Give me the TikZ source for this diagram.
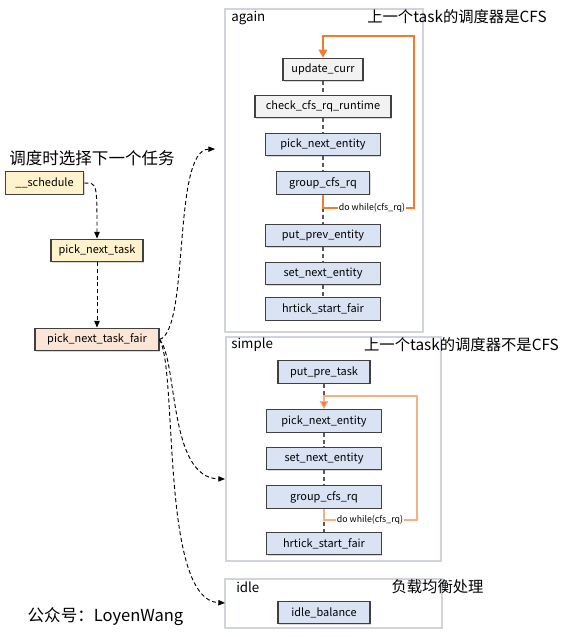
\documentclass[tikz,border=0pt]{standalone}
\usepackage{fontspec}
\setmainfont{Noto Sans CJK SC}
\usetikzlibrary{arrows.meta,shadows}

\definecolor{fgray}{HTML}{F2F2F2}
\definecolor{fblue}{HTML}{DAE3F3}
\definecolor{fyellow}{HTML}{FFF2CC}
\definecolor{fpeach}{HTML}{FBE5D6}
\definecolor{edge}{HTML}{404040}
\definecolor{boxline}{HTML}{D0D5DC}
\definecolor{loopdark}{HTML}{ED7D31}
\definecolor{looplight}{HTML}{F4B183}

\tikzset{
  func/.style={draw=edge, line width=0.8pt, minimum height=17pt, inner sep=0pt,
    font=\fontsize{8.2}{9}\selectfont,
    drop shadow={shadow xshift=0.8pt, shadow yshift=-0.8pt, opacity=0.3}},
  grp/.style={draw=boxline, line width=0.9pt, fill=white,
    drop shadow={shadow xshift=0.6pt, shadow yshift=-0.6pt, opacity=0.15}},
  caption/.style={inner sep=0pt, font=\fontsize{11.5}{12}\selectfont},
  bigcaption/.style={inner sep=0pt, font=\fontsize{12.4}{13}\selectfont},
  tag/.style={inner sep=0pt, anchor=west, font=\fontsize{10}{11}\selectfont},
  call/.style={densely dashed, line width=0.7pt, -{Triangle[length=5pt,width=4pt]}},
  seq/.style={densely dashed, line width=0.9pt, draw=black!65},
  loop/.style={line width=0.8pt, -{Triangle[length=6pt,width=6.5pt,fill=loopdark]}},
  looptext/.style={fill=white, inner sep=0.5pt, font=\fontsize{6.6}{7}\selectfont}
}

\begin{document}
\begin{tikzpicture}[x=0.75pt,y=-0.75pt]
      \useasboundingbox (0,0) rectangle (567,637);

      % left call chain
      \node (pickcap) at (92,158) [bigcaption] {调度时选择下一个任务};

      \node (sched) at (44.5,183) [func, fill=fyellow, minimum width=59pt]
      {\_\_schedule};

      \node (pnt) at (97,250.5) [func, fill=fyellow, minimum width=69pt]
      {pick\_next\_task};

      \node (pntf) at (97,339.5) [func, fill=fpeach, minimum width=93pt]
      {pick\_next\_task\_fair};

      % again
      \draw[grp] (225,9) rectangle (423,332);
      \node (againtag) at (231,18) [tag] {again};
      \node (againcap) at (457,17) [caption] {上一个task的调度器是CFS};

      \node (uc) at (323,69.5) [func, fill=fgray, minimum width=60pt]
      {update\_curr};

      \node (ccrr) at (323,106.5) [func, fill=fgray, minimum width=102pt]
      {check\_cfs\_rq\_runtime};

      \node (pne1) at (323,144.5) [func, fill=fblue, minimum width=86pt]
      {pick\_next\_entity};

      \node (gcr1) at (323,183) [func, fill=fblue, minimum width=70pt]
      {group\_cfs\_rq};

      \node (ppe) at (323,235.5) [func, fill=fblue, minimum width=86pt]
      {put\_prev\_entity};

      \node (sne1) at (323,273.5) [func, fill=fblue, minimum width=86pt]
      {set\_next\_entity};

      \node (hsf1) at (323,309) [func, fill=fblue, minimum width=86pt]
      {hrtick\_start\_fair};

      \draw[seq] (uc.south) -- (ccrr.north);
      \draw[seq] (ccrr.south) -- (pne1.north);
      \draw[seq] (pne1.south) -- (gcr1.north);
      \draw[seq] (gcr1.south) -- (ppe.north);
      \draw[seq] (ppe.south) -- (sne1.north);
      \draw[seq] (sne1.south) -- (hsf1.north);

      \draw[loop, draw=loopdark] (gcr1.south) |- (414,208) |- (323,36) -- (uc.north);
      \node (loop1) at (372,208) [looptext] {do while(cfs\_rq)};

      % simple
      \draw[grp] (226,337) rectangle (441,561);
      \node (simpletag) at (231,345) [tag] {simple};
      \node (simplecap) at (461.5,345) [caption] {上一个task的调度器不是CFS};

      \node (ppt) at (324,372) [func, fill=fblue, minimum width=69pt]
      {put\_pre\_task};

      \node (pne2) at (324,421) [func, fill=fblue, minimum width=86pt]
      {pick\_next\_entity};

      \node (sne2) at (324,458.5) [func, fill=fblue, minimum width=86pt]
      {set\_next\_entity};

      \node (gcr2) at (324,497) [func, fill=fblue, minimum width=86pt]
      {group\_cfs\_rq};

      \node (hsf2) at (324,543.5) [func, fill=fblue, minimum width=86pt]
      {hrtick\_start\_fair};

      \draw[seq] (ppt.south) -- (pne2.north);
      \draw[seq] (pne2.south) -- (sne2.north);
      \draw[seq] (sne2.south) -- (gcr2.north);
      \draw[seq] (gcr2.south) -- (hsf2.north);

      \draw[loop, draw=looplight] (gcr2.south) |- (417,520) |- (324,396) -- (pne2.north);
      \node (loop2) at (370,520) [looptext] {do while(cfs\_rq)};

      % idle
      \draw[grp] (225,579) rectangle (442,628);
      \node (idletag) at (236,587) [tag] {idle};
      \node (idlecap) at (437.5,587) [caption] {负载均衡处理};

      \node (ib) at (324,612.5) [func, fill=fblue, minimum width=69pt]
      {idle\_balance};

      \node (mark) at (105.5,617) [bigcaption] {公众号：LoyenWang};

      % calls
      \coordinate (toagain) at (215,149);
      \coordinate (tosimple) at (225,479);
      \coordinate (toidle) at (225,603);

      \draw[call] (sched.east) .. controls (97,183) .. (pnt.north);
      \draw[call] (pnt.south) -- (pntf.north);
      \draw[call] (pntf.east) .. controls (190,330) and (172,150) .. (toagain);
      \draw[call] (pntf.east) .. controls (178,360) and (168,478) .. (tosimple);
      \draw[call] (pntf.east) .. controls (178,370) and (160,600) .. (toidle);
\end{tikzpicture}
\end{document}
